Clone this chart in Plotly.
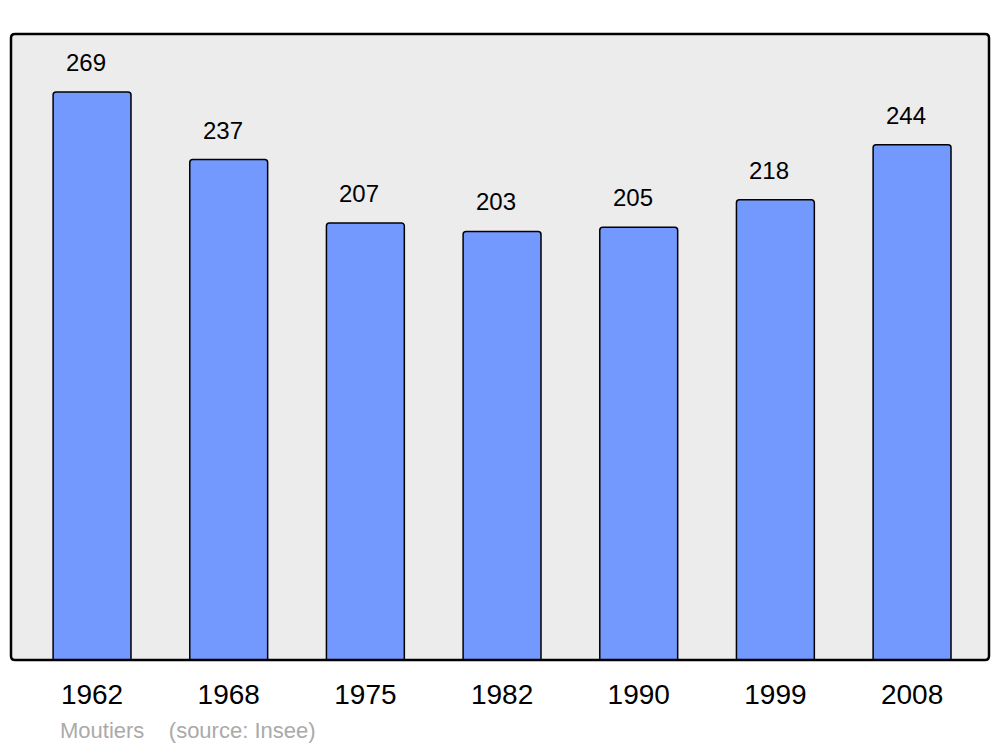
import plotly.graph_objects as go

years = ["1962", "1968", "1975", "1982", "1990", "1999", "2008"]
population = [269, 237, 207, 203, 205, 218, 244]

xs = list(range(len(years)))

FONT = "Liberation Sans, Arial, sans-serif"
pw, ph = 978, 626  # plot area size in px

fig = go.Figure()
fig.add_trace(go.Bar(
    x=xs, y=population, width=0.57,
    marker=dict(color="#7399ff", line=dict(color="black", width=1.5), cornerradius=3),
    hoverinfo="skip",
))

for i, v in enumerate(population):
    fig.add_annotation(x=i, y=v, text=str(v), showarrow=False,
                       xref="x", yref="y", yanchor="bottom", yshift=14, xshift=-6,
                       font=dict(family=FONT, size=24, color="black"))

fig.add_annotation(x=(58 - 11) / pw, y=-(730 - 660) / ph, xref="paper", yref="paper",
                   xanchor="left", yanchor="middle", showarrow=False,
                   text="Moutiers &nbsp;&nbsp;&nbsp;(source: Insee)",
                   font=dict(family=FONT, size=22, color="#aaaaaa"))

rx, ry = 4 / pw, 4 / ph
border_path = (
    f"M {rx},0 L {1 - rx},0 Q 1,0 1,{ry} L 1,{1 - ry} Q 1,1 {1 - rx},1 "
    f"L {rx},1 Q 0,1 0,{1 - ry} L 0,{ry} Q 0,0 {rx},0 Z"
)

H = 739
fig.update_layout(
    width=984, height=H,
    margin=dict(l=3, r=3, t=26, b=H - 26 - ph),
    paper_bgcolor="white", plot_bgcolor="#ececec",
    showlegend=False,
    xaxis=dict(range=[-0.593, 6.563], tickvals=xs, ticktext=years, showgrid=False,
               zeroline=False, ticks="", ticklabelstandoff=15,
               tickfont=dict(family=FONT, size=28, color="black")),
    yaxis=dict(range=[0, 296.5], showgrid=False, zeroline=False, showticklabels=False, ticks=""),
    shapes=[dict(type="path", xref="paper", yref="paper", path=border_path,
                 line=dict(color="black", width=2.5), layer="above")],
)

fig.write_html("out.html")
